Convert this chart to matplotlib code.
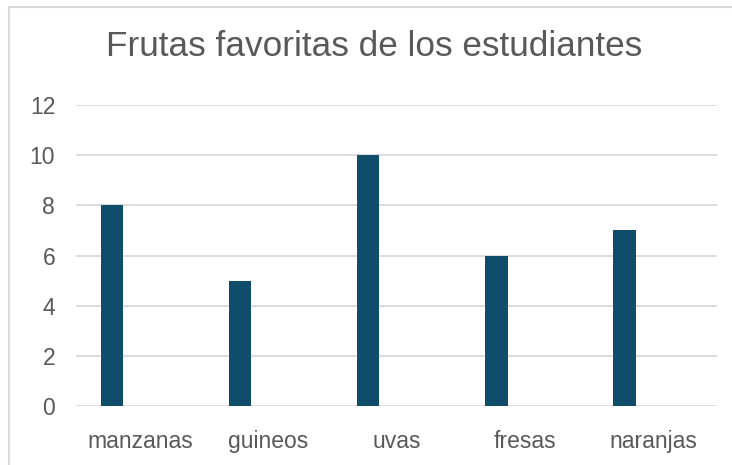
import matplotlib
matplotlib.use('Agg')
import matplotlib.pyplot as plt
from matplotlib.patches import Rectangle

# Datos del gráfico
frutas = ['manzanas', 'guineos', 'uvas', 'fresas', 'naranjas']
estudiantes = [8, 5, 10, 6, 7]
y_ticks = [0, 2, 4, 6, 8, 10, 12]
titulo = 'Frutas favoritas de los estudiantes'

plt.rcParams['font.family'] = ['Liberation Sans', 'DejaVu Sans']

gris = '#595959'
azul = '#0F4D6A'

fig = plt.figure(figsize=(7.32, 4.65), dpi=100)
ax = fig.add_axes([76/732, 1 - 406/465, (717 - 76)/732, (406 - 105)/465])

x = list(range(len(frutas)))
x_barras = [i - 0.221 for i in x]
ax.bar(x_barras, estudiantes, width=0.175, color=azul, zorder=3)

ax.set_xlim(-0.5, len(frutas) - 0.5)
ax.set_ylim(0, 12)
ax.set_yticks(y_ticks)
ax.set_xticks(x)
ax.set_xticklabels(frutas)
ax.grid(axis='y', color='#D9D9D9', linewidth=1.3, zorder=0)
ax.tick_params(length=0, labelsize=16.5, labelcolor=gris)
ax.tick_params(axis='y', pad=15)
ax.tick_params(axis='x', pad=17)
for s in ax.spines.values():
    s.set_visible(False)

fig.text(374/732, 1 - 47/465, titulo, ha='center', va='center', fontsize=25.3, color=gris)

# Borde del área del gráfico (recortado a la derecha y abajo)
fig.patches.append(Rectangle((9/732, -0.1), 1.2, 1 - 7/465 + 0.1, transform=fig.transFigure,
                             fill=False, edgecolor='#D9D9D9', linewidth=1.5))

fig.savefig('out.png', dpi=100)
